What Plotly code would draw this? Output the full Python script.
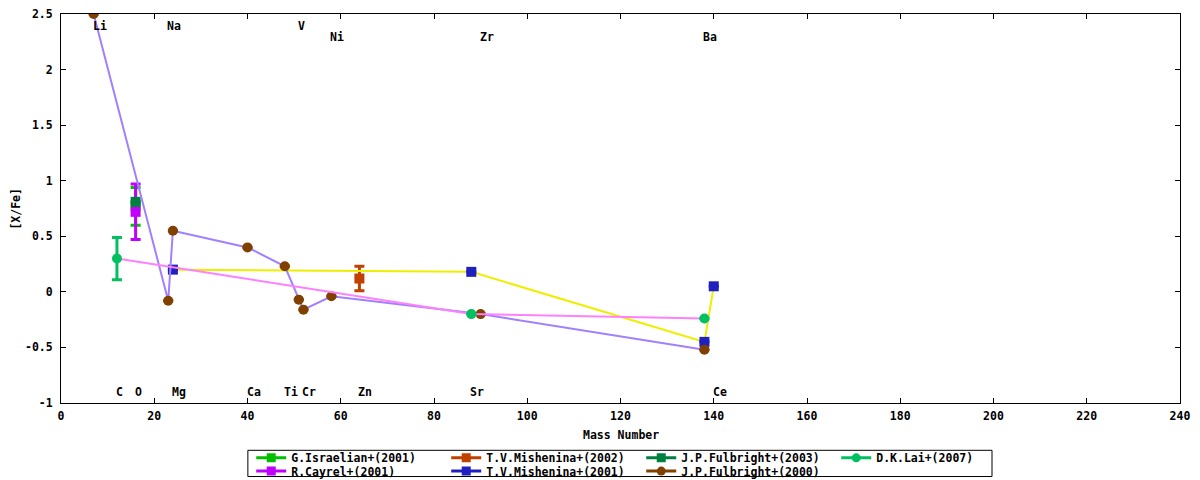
import plotly.graph_objects as go

# mass number / [X/Fe]
israelian_x = [16]
israelian_y = [0.77]
israelian_err = [0.17]

cayrel_x = [16]
cayrel_y = [0.72]
cayrel_err = [0.25]

mish02_x = [64]
mish02_y = [0.12]
mish02_err = [0.11]

mish01_x = [24, 88, 138, 140]
mish01_y = [0.20, 0.18, -0.45, 0.05]
mish01_err = [0, 0, 0, 0]

fulb03_x = [16]
fulb03_y = [0.81]
fulb03_err = [0]

fulb00_x = [7, 23, 24, 40, 48, 51, 52, 58, 90, 138]
fulb00_y = [2.5, -0.08, 0.55, 0.40, 0.23, -0.07, -0.16, -0.04, -0.20, -0.52]
fulb00_err = [0, 0, 0, 0, 0, 0, 0, 0, 0, 0]

lai_x = [12, 88, 138]
lai_y = [0.30, -0.20, -0.24]
lai_err = [0.19, 0, 0]

# element labels (mass number, [X/Fe] height)
elem_names = ["Li", "Na", "V", "Ni", "Zr", "Ba", "C", "O", "Mg", "Ca", "Ti", "Cr", "Zn", "Sr", "Ce"]
elem_x = [7, 23, 51, 58, 90, 138, 12, 16, 24, 40, 48, 52, 64, 88, 140]
elem_y = [2.39, 2.39, 2.39, 2.29, 2.29, 2.29, -0.9, -0.9, -0.9, -0.9, -0.9, -0.9, -0.9, -0.9, -0.9]

y_ticks = [-1, -0.5, 0, 0.5, 1, 1.5, 2, 2.5]
y_ticktext = ["-1", "-0.5", "0", "0.5", "1", "1.5", "2", "2.5"]
x_ticks = [0, 20, 40, 60, 80, 100, 120, 140, 160, 180, 200, 220, 240]

FONT = dict(family="DejaVu Sans Mono", size=11.5, color="black", weight="bold")

fig = go.Figure()


def add_points(x, y, err, name, color, symbol, legend):
    fig.add_scatter(x=x, y=y, mode="markers", name=name, legendgroup=name, showlegend=False,
                    marker=dict(color=color, size=10, symbol=symbol),
                    error_y=dict(type="data", array=err, visible=True, color=color, thickness=3, width=5))
    # legend sample only
    fig.add_scatter(x=[None], y=[None], mode="lines+markers", name=name, legendgroup=name, legend=legend,
                    line=dict(color=color, width=3), marker=dict(color=color, size=9, symbol=symbol))


def add_line(x, y, color):
    fig.add_scatter(x=x, y=y, mode="lines", showlegend=False, hoverinfo="skip",
                    line=dict(color=color, width=2))


add_points(israelian_x, israelian_y, israelian_err, "G.Israelian+(2001)", "#00c000", "square", "legend")
add_points(cayrel_x, cayrel_y, cayrel_err, "R.Cayrel+(2001)", "#c000ff", "square", "legend2")
add_points(mish02_x, mish02_y, mish02_err, "T.V.Mishenina+(2002)", "#c04000", "square", "legend")
add_line(mish01_x, mish01_y, "#eeee00")
add_points(mish01_x, mish01_y, mish01_err, "T.V.Mishenina+(2001)", "#2020c0", "square", "legend2")
add_points(fulb03_x, fulb03_y, fulb03_err, "J.P.Fulbright+(2003)", "#008040", "square", "legend")
add_line(fulb00_x, fulb00_y, "#a080ff")
add_points(fulb00_x, fulb00_y, fulb00_err, "J.P.Fulbright+(2000)", "#804000", "circle", "legend2")
add_line(lai_x, lai_y, "#ff80ff")
add_points(lai_x, lai_y, lai_err, "D.K.Lai+(2007)", "#00c060", "circle", "legend")

for name, ex, ey in zip(elem_names, elem_x, elem_y):
    fig.add_annotation(x=ex, y=ey, xref="x", yref="y", text=name, showarrow=False,
                       xanchor="left", yanchor="middle", xshift=-3, font=FONT)

fig.add_annotation(x=0.5, y=-0.083, xref="paper", yref="paper", text="Mass Number",
                   showarrow=False, xanchor="center", yanchor="middle", font=FONT)
fig.add_annotation(x=-0.041, y=0.5, xref="paper", yref="paper", text="[X/Fe]", textangle=-90,
                   showarrow=False, xanchor="center", yanchor="middle", font=FONT)

# legend frame
fig.add_shape(type="rect", xref="paper", yref="paper", x0=0.167, x1=0.832, y0=-0.189, y1=-0.1216,
              line=dict(color="black", width=1))

axis_style = dict(showline=True, mirror="allticks", linecolor="black", linewidth=1,
                  ticks="inside", ticklen=5, tickcolor="black", showgrid=False, zeroline=False,
                  tickfont=FONT, automargin=False, ticklabeloverflow="allow")

legend_style = dict(orientation="h", xanchor="left", yanchor="middle", bgcolor="rgba(0,0,0,0)",
                    borderwidth=0, font=FONT, entrywidth=150, entrywidthmode="pixels")

# page body adds an 8px offset, so the figure is a bit smaller than the window
fig.update_layout(
    width=1184, height=472,
    margin=dict(l=53, r=12, t=6, b=77, autoexpand=False),
    plot_bgcolor="white", paper_bgcolor="white",
    font=FONT,
    xaxis=dict(range=[0, 240], tickvals=x_ticks, ticklabelstandoff=2, **axis_style),
    yaxis=dict(range=[-1, 2.5], tickvals=y_ticks, ticktext=y_ticktext, ticklabelstandoff=5, **axis_style),
    legend=dict(x=0.170, y=-0.141, **legend_style),
    legend2=dict(x=0.170, y=-0.175, **legend_style),
)

fig.write_html("out.html")
